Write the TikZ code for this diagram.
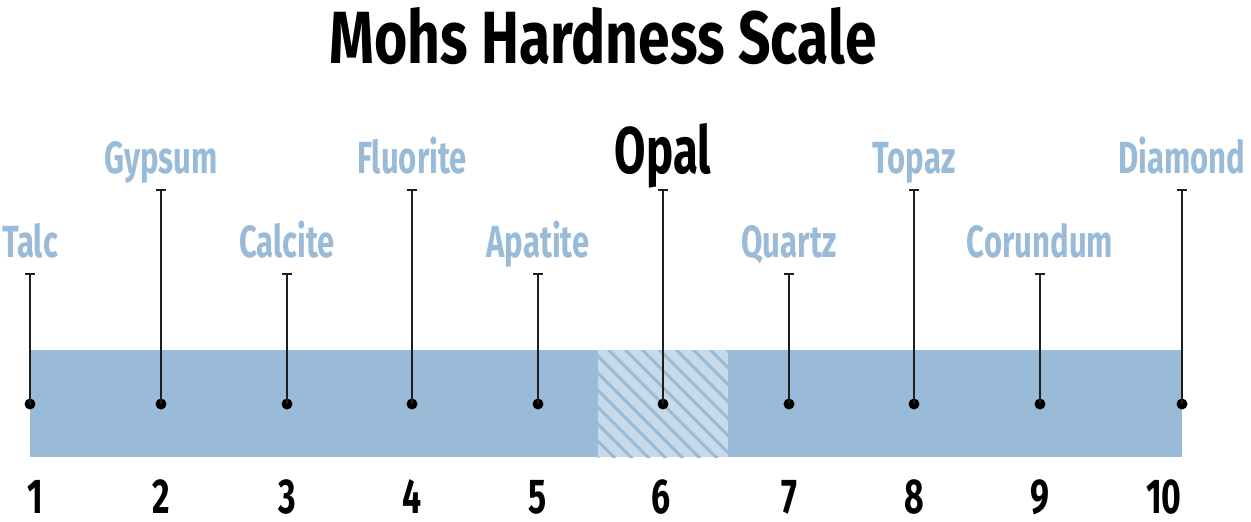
\documentclass[tikz,border=0pt]{standalone}
\usepackage{fontspec}
\setmainfont{Fira Sans}[FakeStretch=0.69]
\newfontfamily\titlefont{Fira Sans}[FakeStretch=0.77]
\usetikzlibrary{patterns.meta}

\definecolor{scaleblue}{HTML}{9ABBD8}
\definecolor{hatchblue}{HTML}{C8DAEA}
\definecolor{stemgray}{HTML}{1E1E1E}

\tikzset{
    headline/.style={font=\titlefont\bfseries\fontsize{74}{74}\selectfont, anchor=base, inner sep=0pt},
    mineral/.style={text=scaleblue, font=\bfseries\fontsize{45}{45}\selectfont, anchor=base, inner sep=0pt},
    gem/.style={text=black, font=\bfseries\fontsize{66}{66}\selectfont, anchor=base, inner sep=0pt},
    hardness/.style={font=\bfseries\fontsize{49}{49}\selectfont, anchor=base, inner sep=0pt},
    stem/.style={draw=stemgray, line width=1.6pt},
    dot/.style={circle, fill=black, minimum size=11pt, inner sep=0pt}
}

\begin{document}
\begin{tikzpicture}[x=1pt, y=-1pt]
    \useasboundingbox (0,0) rectangle (1251,522);

    %% title
    \node[headline] (title) at (603,63) {Mohs Hardness Scale};

    %% the bar, with the opal gap
    \fill[scaleblue] (30,350) rectangle (1182,457);
    \fill[hatchblue] (598,350) rectangle (728,457);
    \fill[pattern={Lines[angle=-45, distance=12pt, line width=3pt]}, pattern color=scaleblue]
        (598,350) rectangle (728,457);

    %% stems, dots and names
    \foreach \x/\top/\st/\name/\num/\nx [count=\i] in {
            30/274/mineral/Talc/1/35,
            161/190/mineral/Gypsum/2/161,
            287/274/mineral/Calcite/3/287,
            412/190/mineral/Fluorite/4/412,
            538/274/mineral/Apatite/5/538,
            663/190/gem/Opal/6/661,
            789/274/mineral/Quartz/7/789,
            914/190/mineral/Topaz/8/914,
            1040/274/mineral/Corundum/9/1040,
            1182/190/mineral/Diamond/10/1164} {
        \node[dot] (d\i) at (\x,404) {};
        \coordinate (t\i) at (\x,\top);
        \draw[stem] (d\i.center) -- (t\i);
        \draw[stem] ([xshift=-5pt]t\i) -- ([xshift=5pt]t\i);
        \node[\st] (m\i) at (\x,\top-17) {\name};
        \node[hardness] (n\i) at (\nx,513) {\num};
    }
\end{tikzpicture}
\end{document}
